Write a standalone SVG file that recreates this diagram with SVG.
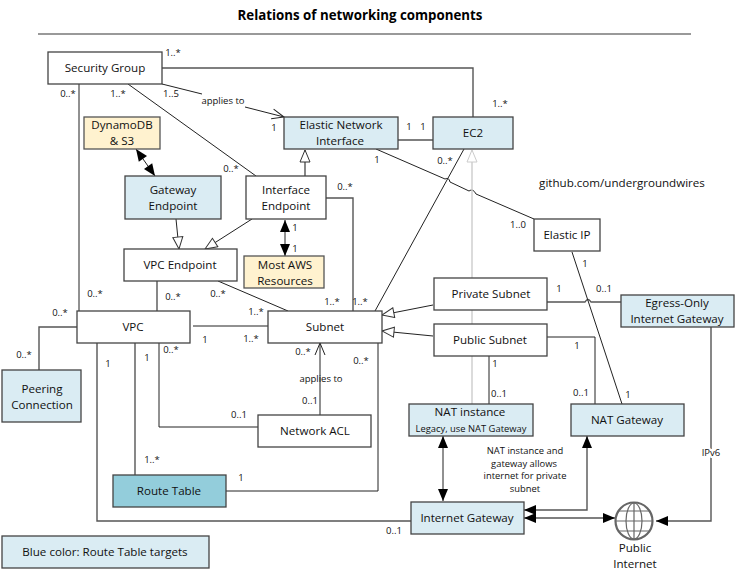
<svg xmlns="http://www.w3.org/2000/svg" width="736" height="579" viewBox="0 0 736 579">
<style>
text{font-family:"Open Sans","Noto Sans","DejaVu Sans",sans-serif;font-size:11.6px;fill:#111;text-anchor:middle}
.l{font-size:9.5px}
.m{font-size:9.4px}
.s{font-size:9.4px}
.n{fill:#fff;stroke:#444;stroke-width:1.3}
.b{fill:#daecf3;stroke:#444;stroke-width:1.3}
.y{fill:#fff2cf;stroke:#555;stroke-width:1.3}
.c{fill:none;stroke:#222;stroke-width:1}
.g{fill:none;stroke:#555;stroke-width:1.4}
</style>
<defs>
<marker id="tri" markerUnits="userSpaceOnUse" markerWidth="14" markerHeight="12" refX="13" refY="6" orient="auto"><path d="M1 1L13 6L1 11Z" fill="#fff" stroke="#333"/></marker>
<marker id="triL" markerUnits="userSpaceOnUse" markerWidth="14" markerHeight="12" refX="13" refY="6" orient="auto"><path d="M1 1L13 6L1 11Z" fill="#fff" stroke="#ccc"/></marker>
<marker id="fill" markerUnits="userSpaceOnUse" markerWidth="14" markerHeight="12" refX="13" refY="6" orient="auto"><path d="M1 1L13 6L1 11Z" fill="#000"/></marker>
<marker id="fillS" markerUnits="userSpaceOnUse" markerWidth="14" markerHeight="12" refX="1" refY="6" orient="auto"><path d="M13 1L1 6L13 11Z" fill="#000"/></marker>
<marker id="open" markerUnits="userSpaceOnUse" markerWidth="14" markerHeight="12" refX="13" refY="6" orient="auto"><path d="M1 1L13 6L1 11" fill="none" stroke="#222"/></marker>
</defs>
<text x="360" y="20" style="font-size:13.3px;font-weight:700;fill:#000">Relations of networking components</text>
<line x1="38" y1="34" x2="691" y2="34" stroke="#777" stroke-width="1.6"/>
<g id="connectors">
<path class="g" d="M162 68H473V117"/>
<path class="c" d="M79 84V311"/>
<path class="c" d="M128 84L256 176"/>
<path class="c" d="M162 84L202 94"/><path class="c" d="M245 107L284 117" marker-end="url(#open)"/>
<path class="g" d="M305 176V150" marker-end="url(#tri)"/>
<path class="g" d="M398 140H433"/>
<path class="c" d="M376 149L445 179Q449 177 450 182L469 191Q473 188 476 194L534 219"/>
<path class="c" d="M464 149L375 311"/>
<path d="M472 404V150" fill="none" stroke="#ccc" stroke-width="1.4" marker-end="url(#triL)"/>
<path class="c" d="M136 149L155 176" marker-start="url(#fillS)" marker-end="url(#fill)" stroke-width="1.5"/>
<path class="c" d="M176 219L179 249" marker-end="url(#tri)"/>
<path class="c" d="M252 219L205 249" marker-end="url(#tri)"/>
<path class="c" d="M285 220V256" marker-start="url(#fillS)" marker-end="url(#fill)" stroke-width="1.5"/>
<path class="g" d="M326 198H353V311"/>
<path class="c" d="M218 281L288 311"/>
<path class="g" d="M157 281V311"/>
<path class="c" d="M193 326H268"/>
<path class="g" d="M77 327H39V370"/>
<path class="g" d="M97 343V521H411"/>
<path class="g" d="M135 343V475"/>
<path class="c" d="M159 343V427H258"/>
<path class="c" d="M320 415V343" marker-end="url(#open)"/>
<path class="c" d="M226 491H378V343"/>
<path class="c" d="M433 305L382 315" marker-end="url(#tri)"/>
<path class="c" d="M433 336L382 331" marker-end="url(#tri)"/>
<path class="g" d="M547 302H585Q588 297 591 302H621"/>
<path class="c" d="M572 252L622 404"/>
<path class="c" d="M547 337H595V404"/>
<path class="c" d="M489 356V404"/>
<path class="c" d="M443 436V501" marker-start="url(#fillS)" marker-end="url(#fill)" stroke-width="1.3"/>
<path class="g" d="M587 436V510H524" marker-start="url(#fillS)" marker-end="url(#fill)"/>
<path class="g" d="M524 518H615" marker-start="url(#fillS)" marker-end="url(#fill)"/>
<path class="g" d="M711 327V521H656" marker-end="url(#fill)"/>
</g>
<g id="security-group"><rect class="n" x="48" y="52" width="114" height="32"/><text x="105" y="72">Security Group</text></g>
<g id="eni"><rect class="b" x="284" y="117" width="114" height="32"/><text x="341" y="129">Elastic Network</text><text x="340" y="145">Interface</text></g>
<g id="ec2"><rect class="b" x="433" y="117" width="80" height="32"/><text x="473" y="137">EC2</text></g>
<g id="dynamodb"><rect class="y" x="84" y="117" width="76" height="32"/><text x="122" y="129">DynamoDB</text><text x="122" y="145">&amp; S3</text></g>
<g id="gateway-endpoint"><rect class="b" x="125" y="176" width="96" height="43"/><text x="173" y="194">Gateway</text><text x="173" y="210">Endpoint</text></g>
<g id="interface-endpoint"><rect class="n" x="246" y="176" width="80" height="43"/><text x="286" y="194">Interface</text><text x="286" y="210">Endpoint</text></g>
<g id="vpc-endpoint"><rect class="n" x="124" y="249" width="113" height="32"/><text x="180" y="269">VPC Endpoint</text></g>
<g id="aws-resources"><rect class="y" x="244" y="256" width="80" height="32"/><text x="285" y="269">Most AWS</text><text x="285" y="285">Resources</text></g>
<g id="elastic-ip"><rect class="n" x="534" y="219" width="66" height="32"/><text x="567" y="239">Elastic IP</text></g>
<g id="private-subnet"><rect class="n" x="434" y="278" width="113" height="32"/><text x="491" y="298">Private Subnet</text></g>
<g id="egress"><rect class="b" x="621" y="295" width="113" height="32"/><text x="677" y="307">Egress-Only</text><text x="677" y="323">Internet Gateway</text></g>
<g id="public-subnet"><rect class="n" x="434" y="324" width="113" height="32"/><text x="490" y="344">Public Subnet</text></g>
<g id="vpc"><rect class="n" x="77" y="311" width="113" height="32"/><text x="133" y="331">VPC</text></g>
<g id="subnet"><rect class="n" x="268" y="311" width="114" height="32"/><text x="325" y="331">Subnet</text></g>
<g id="peering"><rect class="b" x="2" y="370" width="79" height="52"/><text x="42" y="393">Peering</text><text x="42" y="409">Connection</text></g>
<g id="network-acl"><rect class="n" x="258" y="415" width="113" height="32"/><text x="315" y="435">Network ACL</text></g>
<g id="route-table"><rect x="113" y="475" width="113" height="32" fill="#93cddb" stroke="#444" stroke-width="1.3"/><text x="169" y="495">Route Table</text></g>
<g id="nat-instance"><rect class="b" x="409" y="404" width="124" height="32"/><text x="470" y="416">NAT instance</text><text x="471" y="432" class="m">Legacy, use NAT Gateway</text></g>
<g id="nat-gateway"><rect class="b" x="571" y="404" width="113" height="32"/><text x="627" y="424">NAT Gateway</text></g>
<g id="internet-gateway"><rect class="b" x="411" y="502" width="113" height="32"/><text x="467" y="522">Internet Gateway</text></g>
<g id="public-internet">
<g fill="none" stroke="#666"><circle cx="634" cy="521" r="18.5" stroke-width="2.2"/><ellipse cx="634" cy="521" rx="8" ry="18" stroke-width="1.2"/><path d="M634 503V539M616 521H652M619 511H649M619 531H649" stroke-width="1.2"/></g>
<text x="635" y="552">Public</text><text x="635" y="568">Internet</text></g>
<g id="legend"><rect class="b" x="2" y="536" width="207" height="32"/><text x="105" y="556">Blue color: Route Table targets</text></g>
<g id="labels">
<text x="622" y="187">github.com/undergroundwires</text>
<g>
<text x="173" y="56" class="l">1..*</text><text x="68" y="97" class="l">0..*</text><text x="118" y="97" class="l">1..*</text><text x="171" y="97" class="l">1..5</text>
<text x="223" y="104" class="l">applies to</text><text x="274" y="131" class="l">1</text><text x="231" y="172" class="l">0..*</text><text x="295" y="231" class="l">1</text><text x="295" y="252" class="l">1</text>
<text x="345" y="190" class="l">0..*</text><text x="409" y="130" class="l">1</text><text x="423" y="130" class="l">1</text><text x="500" y="107" class="l">1..*</text><text x="377" y="163" class="l">1</text><text x="445" y="164" class="l">0..*</text>
<text x="518" y="228" class="l">1..0</text><text x="585" y="267" class="l">1</text><text x="559" y="292" class="l">1</text><text x="604" y="292" class="l">0..1</text>
<text x="95" y="297" class="l">0..*</text><text x="173" y="300" class="l">0..*</text><text x="218" y="297" class="l">0..*</text><text x="256" y="315" class="l">1..*</text><text x="332" y="305" class="l">1..*</text><text x="360" y="305" class="l">1..*</text>
<text x="60" y="316" class="l">0..*</text><text x="205" y="343" class="l">1</text><text x="251" y="342" class="l">1..*</text><text x="24" y="358" class="l">0..*</text><text x="108" y="367" class="l">1</text><text x="147" y="361" class="l">1</text><text x="171" y="353" class="l">0..*</text><text x="303" y="355" class="l">0..*</text><text x="361" y="364" class="l">0..*</text>
<text x="321" y="382" class="l">applies to</text><text x="310" y="404" class="l">0..1</text><text x="239" y="418" class="l">0..1</text><text x="152" y="463" class="l">1..*</text><text x="241" y="481" class="l">1</text><text x="394" y="534" class="l">0..1</text>
<text x="495" y="367" class="l">1</text><text x="499" y="397" class="l">0..1</text><text x="577" y="349" class="l">1</text><text x="581" y="396" class="l">0..1</text><text x="628" y="398" class="l">1</text><text x="711" y="456" class="l" style="paint-order:stroke;stroke:#fff;stroke-width:4px">IPv6</text>
<text x="525" y="454" class="s">NAT instance and</text><text x="524" y="467" class="s">gateway allows</text><text x="525" y="479" class="s">internet for private</text><text x="525" y="492" class="s">subnet</text>
</g></g>
</svg>
